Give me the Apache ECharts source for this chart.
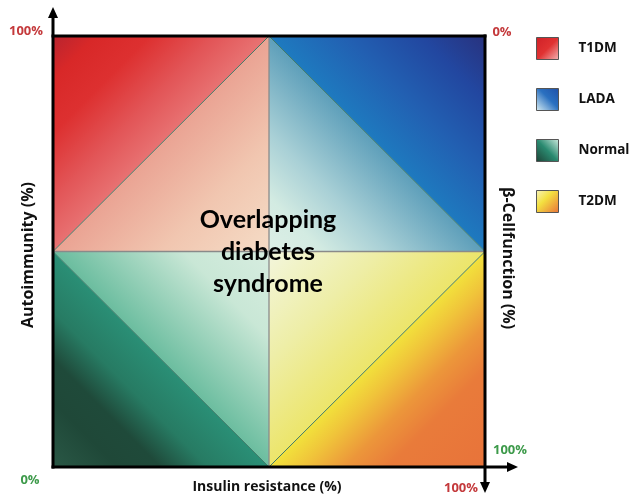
<!DOCTYPE html>
<html>
<head>
<meta charset="utf-8">
<script src="https://cdn.jsdelivr.net/npm/echarts@6/dist/echarts.min.js"></script>
<style>html,body{margin:0;padding:0;background:#fff}#c{width:629px;height:496px}</style>
</head>
<body>
<div id="c"></div>
<script>
// Regions in axis units (x: insulin resistance 0-100, y: autoimmunity 0-100), each triangle as x1,y1,x2,y2,x3,y3
const groupNames = ['T1DM', 'LADA', 'Normal', 'T2DM'];
const t1dmTriangles = [[0,100, 50,100, 0,50], [50,100, 50,50, 0,50]];
const ladaTriangles = [[50,100, 100,100, 100,50], [50,100, 50,50, 100,50]];
const normalTriangles = [[0,50, 0,0, 50,0], [0,50, 50,50, 50,0]];
const t2dmTriangles = [[100,50, 100,0, 50,0], [50,50, 100,50, 50,0]];
const centerLines = [[50,0, 50,100], [0,50, 100,50]];
const diagonalLines = [[0,50, 50,100], [50,100, 100,50], [0,50, 50,0], [50,0, 100,50]];
const centerText = ['Overlapping', 'diabetes', 'syndrome'];
const cornerLabels = ['100%', '0%', '0%', '100%', '100%'];

const LG = (x0,y0,x1,y1,stops) => new echarts.graphic.LinearGradient(x0,y0,x1,y1,
  stops.map(s => ({offset: s[0], color: s[1]})));

const fills = {
  T1DM: [
    LG(0,0,0.5,0.5,[[0,'#b8242f'],[0.2,'#d82828'],[0.45,'#dd3030'],[0.75,'#e25557'],[1,'#e87272']]),
    LG(0.5,0.5,1,1,[[0,'#eaa393'],[0.5,'#f1c6b0'],[1,'#f5dcc6']])
  ],
  LADA: [
    LG(1,0,0.5,0.5,[[0,'#28327e'],[0.3,'#2247a0'],[0.65,'#2260b2'],[1,'#1e7abf']]),
    LG(0.5,0.5,0,1,[[0,'#5e9fba'],[0.45,'#a9d0d6'],[0.75,'#d3ebe2'],[1,'#dcefe6']])
  ],
  Normal: [
    LG(0,1,0.5,0.5,[[0,'#2a5846'],[0.3,'#1f4838'],[0.5,'#1f4a3a'],[0.72,'#277b63'],[1,'#2a8f76']]),
    LG(0.5,0.5,1,0,[[0,'#6bbd9f'],[0.6,'#c9e7d6'],[1,'#d7ede0']])
  ],
  T2DM: [
    LG(0.5,0.5,1,1,[[0,'#f2e23c'],[0.15,'#f0c43a'],[0.35,'#ec963a'],[0.55,'#e97b3a'],[1,'#e8733a']]),
    LG(0.5,0.5,0,0,[[0,'#ece56a'],[0.5,'#eeeea8'],[1,'#f3f6dc']])
  ]
};
const legendFills = {
  T1DM: LG(0,0,1,1,[[0,'#cf2027'],[0.5,'#e03232'],[1,'#f2b8b8']]),
  LADA: LG(1,0,0,1,[[0,'#1f4fa8'],[0.45,'#2a70c0'],[1,'#dcf0f4']]),
  Normal: LG(0,1,1,0,[[0,'#1c4034'],[0.5,'#2a8a70'],[1,'#d0ece0']]),
  T2DM: LG(0,0,1,1,[[0,'#f8f4c0'],[0.4,'#f3e040'],[1,'#e8703a']])
};

const triData = {T1DM: t1dmTriangles, LADA: ladaTriangles, Normal: normalTriangles, T2DM: t2dmTriangles};

function triRender(name) {
  return function (params, api) {
    const pts = [
      api.coord([api.value(0), api.value(1)]),
      api.coord([api.value(2), api.value(3)]),
      api.coord([api.value(4), api.value(5)])
    ];
    return {type: 'polygon', shape: {points: pts}, style: {fill: fills[name][params.dataIndex], stroke: null}};
  };
}
function lineRender(color, width) {
  return function (params, api) {
    const a = api.coord([api.value(0), api.value(1)]);
    const b = api.coord([api.value(2), api.value(3)]);
    return {type: 'line', shape: {x1: a[0], y1: a[1], x2: b[0], y2: b[1]}, style: {stroke: color, lineWidth: width}};
  };
}

const series = groupNames.map(n => ({
  name: n, type: 'custom', renderItem: triRender(n), data: triData[n],
  encode: {x: [0,2,4], y: [1,3,5]}, itemStyle: {color: legendFills[n]}, silent: true, z: 1
}));
series.push({type: 'custom', name: 'center', renderItem: lineRender('#8a8a8a', 1.3), data: centerLines,
  encode: {x: [0,2], y: [1,3]}, silent: true, z: 2});
series.push({type: 'custom', name: 'diag', renderItem: lineRender('#3f7a68', 1), data: diagonalLines,
  encode: {x: [0,2], y: [1,3]}, silent: true, z: 2});
// frame with arrows
series.push({type: 'custom', name: 'frame', clip: false, silent: true, z: 3,
  data: [[0,0,100,100]], encode: {x: [0,2], y: [1,3]},
  renderItem: function (params, api) {
    const bl = api.coord([api.value(0), api.value(1)]);
    const tr = api.coord([api.value(2), api.value(3)]);
    const L = bl[0], B = bl[1], R = tr[0], T = tr[1];
    const st = {stroke: '#000', lineWidth: 3};
    return {type: 'group', children: [
      {type: 'line', shape: {x1: L, y1: B + 1.5, x2: L, y2: T - 19}, style: st},
      {type: 'polygon', shape: {points: [[L, T - 29], [L - 5, T - 18], [L + 5, T - 18]]}, style: {fill: '#000'}},
      {type: 'line', shape: {x1: L - 1.5, y1: T, x2: R + 1.5, y2: T}, style: st},
      {type: 'line', shape: {x1: R, y1: T - 1.5, x2: R, y2: B + 16}, style: st},
      {type: 'polygon', shape: {points: [[R, B + 26], [R - 5, B + 15], [R + 5, B + 15]]}, style: {fill: '#000'}},
      {type: 'line', shape: {x1: L - 1.5, y1: B, x2: R + 23, y2: B}, style: st},
      {type: 'polygon', shape: {points: [[R + 33, B], [R + 22, B - 5], [R + 22, B + 5]]}, style: {fill: '#000'}}
    ]};
  }
});

const chart = echarts.init(document.getElementById('c'), null, {renderer: 'canvas'});
const FC = 'Lato, "Open Sans", sans-serif';
const FL = '"Open Sans", Lato, sans-serif';
const red = '#c4393b', green = '#3d9a4a';
function txt(text, x, y, size, color, rot, fam) {
  return {type: 'text', x: x, y: y, rotation: rot || 0, z: 10,
    style: {text: text, fill: color, font: 'bold ' + size + 'px ' + (fam || FL), align: 'center', verticalAlign: 'middle'}};
}
chart.setOption({
  animation: false,
  grid: {left: 53, right: 144, top: 36, bottom: 29},
  xAxis: {type: 'value', min: 0, max: 100, show: false},
  yAxis: {type: 'value', min: 0, max: 100, show: false},
  legend: {
    data: groupNames, orient: 'vertical', left: 536, top: 37, icon: 'rect', padding: 0,
    itemWidth: 22, itemHeight: 22, itemGap: 28, selectedMode: false,
    itemStyle: {borderColor: '#555', borderWidth: 1},
    textStyle: {fontFamily: FL, fontWeight: 'bold', fontSize: 13.5, color: '#111', padding: [0, 0, 0, 15]}
  },
  series: series,
  graphic: [
    txt(centerText[0], 268, 220, 25, '#000', 0, FC),
    txt(centerText[1], 268, 252, 25, '#000', 0, FC),
    txt(centerText[2], 268, 284, 25, '#000', 0, FC),
    txt('Insulin resistance (%)', 267, 487, 14, '#111'),
    txt('Autoimmunity (%)', 28, 255, 16, '#111', Math.PI / 2),
    txt('β-Cellfunction (%)', 508, 258, 16, '#111', -Math.PI / 2),
    txt(cornerLabels[0], 26, 31, 13, red),
    txt(cornerLabels[1], 502, 32, 13, red),
    txt(cornerLabels[2], 30, 480, 13, green),
    txt(cornerLabels[3], 510, 450, 13, green),
    txt(cornerLabels[4], 461, 488, 13, red)
  ]
});
</script>
</body>
</html>
